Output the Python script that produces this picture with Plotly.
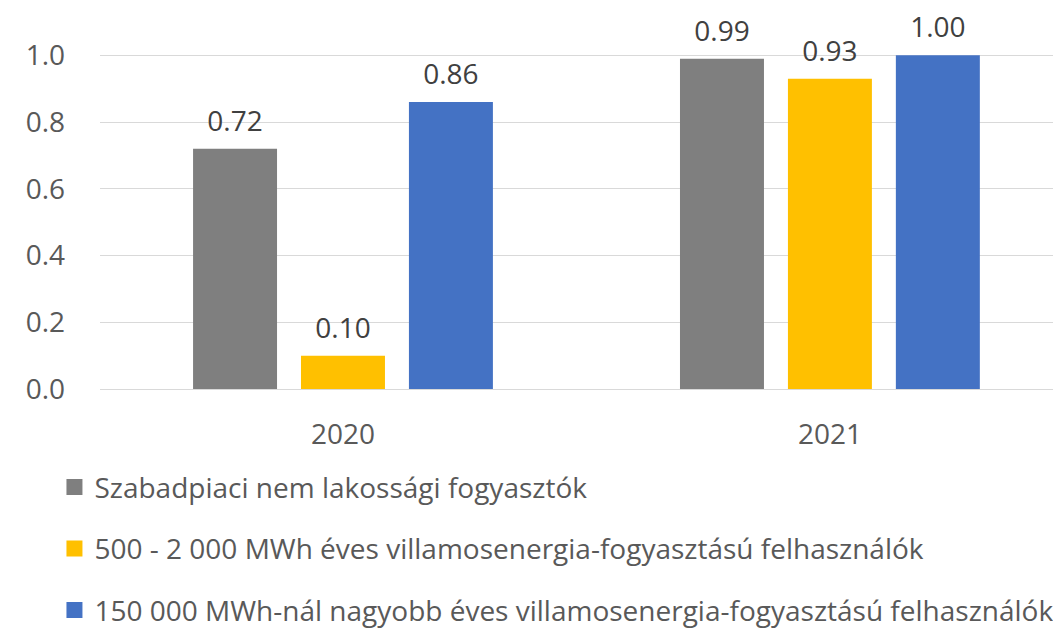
import plotly.graph_objects as go

years = ["2020", "2021"]
series_names = [
    "Szabadpiaci nem lakossági fogyasztók",
    "500 - 2 000 MWh éves villamosenergia-fogyasztású felhasználók",
    "150 000 MWh-nál nagyobb éves villamosenergia-fogyasztású felhasználók",
]
szabadpiaci = [0.72, 0.99]
mwh_500_2000 = [0.10, 0.93]
mwh_150000 = [0.86, 1.00]
colors = ["#7f7f7f", "#ffc000", "#4472c4"]

FONT = "Open Sans"
TXT = "#595959"
BARGAP = 0.335

fig = go.Figure()
all_vals = [szabadpiaci, mwh_500_2000, mwh_150000]
for i, (name, vals) in enumerate(zip(series_names, all_vals)):
    fig.add_trace(go.Bar(
        x=years, y=vals, name=name, marker=dict(color=colors[i], line=dict(width=0)),
        legendgroup=f"g{i}", hoverinfo="skip", offsetgroup=f"o{i}", alignmentgroup="a",
        showlegend=False,
    ))
for i, vals in enumerate(all_vals):
    fig.add_trace(go.Scatter(
        x=years, y=vals, mode="markers+text", text=[f"{v:.2f}" for v in vals],
        textposition="top center", cliponaxis=False,
        marker=dict(size=16, color="rgba(0,0,0,0)"),
        textfont=dict(family=FONT, size=28, color="#404040"),
        showlegend=False, hoverinfo="skip", offsetgroup=f"o{i}", alignmentgroup="a",
    ))
# legend entries (square swatches)
for i, name in enumerate(series_names):
    fig.add_trace(go.Scatter(
        x=[None], y=[None], mode="markers", name=name, legendgroup=f"g{i}",
        marker=dict(symbol="square", size=18, color=colors[i], line=dict(width=0)),
        hoverinfo="skip",
    ))

fig.update_layout(
    width=1061, height=633,
    margin=dict(l=92, r=0, t=14, b=252),
    paper_bgcolor="white", plot_bgcolor="white",
    barmode="group", bargap=BARGAP, bargroupgap=0.222,
    scattermode="group", scattergap=BARGAP,
    font=dict(family=FONT, size=28, color=TXT),
    xaxis=dict(range=[-0.499, 1.491], showgrid=False, showline=False, ticks="",
               tickfont=dict(size=28, color=TXT), ticklabelstandoff=26),
    yaxis=dict(range=[0, 1.1], tickvals=[0, 0.2, 0.4, 0.6, 0.8, 1.0], tickformat=".1f",
               showgrid=True, gridcolor="#d9d9d9", gridwidth=1.3, zeroline=True,
               zerolinecolor="#d9d9d9", zerolinewidth=1.3, showline=False, ticks="",
               tickfont=dict(size=28, color=TXT), ticklabelstandoff=34),
    showlegend=True,
    legend=dict(orientation="v", x=-0.047, xanchor="left", y=-0.2, yanchor="top",
                font=dict(size=28, color=TXT), tracegroupgap=22, bgcolor="rgba(0,0,0,0)",
                itemsizing="trace"),
)

fig.write_html("out.html")
